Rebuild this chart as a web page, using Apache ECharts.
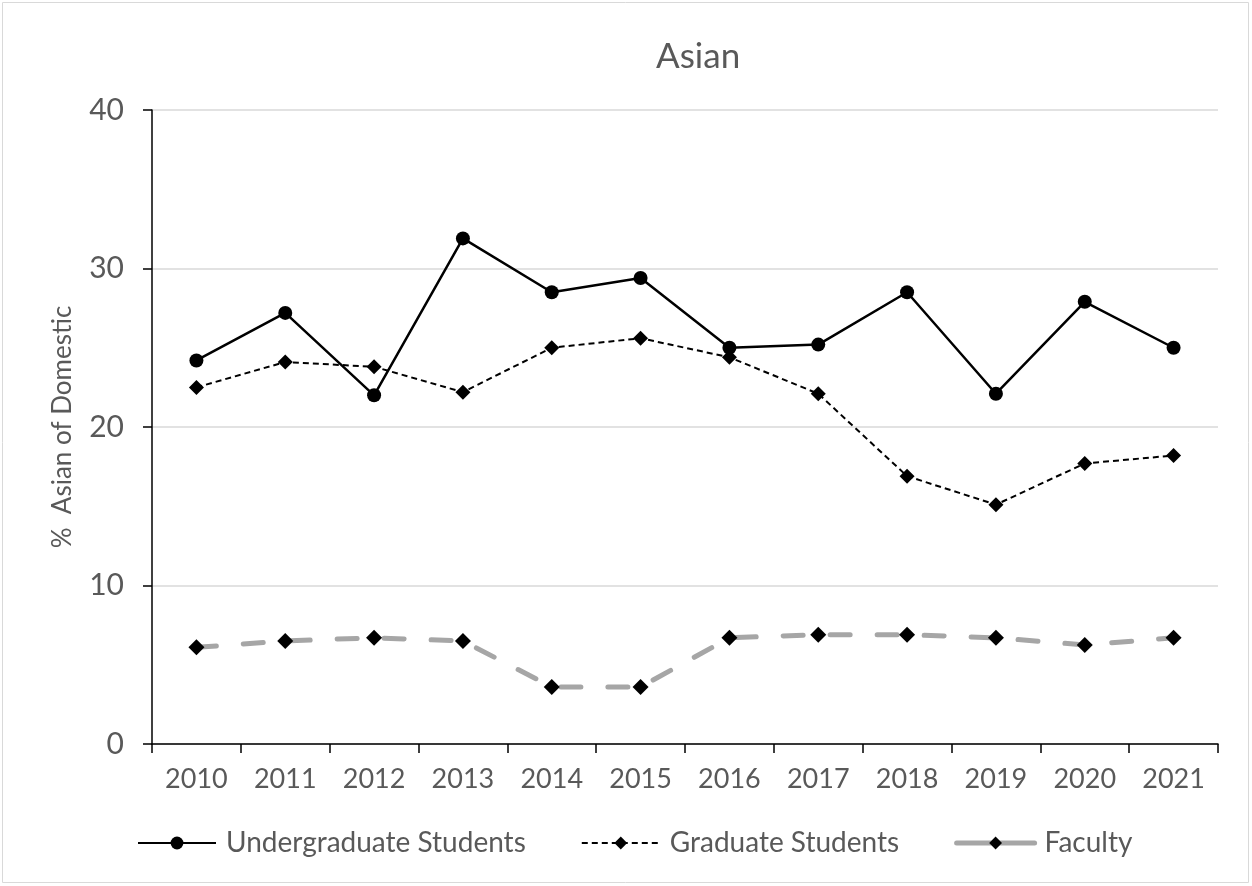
<!DOCTYPE html>
<html>
<head>
<meta charset="utf-8">
<script src="https://cdn.jsdelivr.net/npm/echarts@6/dist/echarts.min.js"></script>
<style>html,body{margin:0;padding:0;background:#fff;}#c{width:1252px;height:886px;}</style>
</head>
<body>
<div id="c"></div>
<script>
const years = ['2010','2011','2012','2013','2014','2015','2016','2017','2018','2019','2020','2021'];
const undergrad = [24.2, 27.2, 22.0, 31.9, 28.5, 29.4, 25.0, 25.2, 28.5, 22.1, 27.9, 25.0];
const graduate = [22.5, 24.1, 23.8, 22.2, 25.0, 25.6, 24.4, 22.1, 16.9, 15.1, 17.7, 18.2];
const faculty = [6.1, 6.5, 6.7, 6.5, 3.6, 3.6, 6.7, 6.9, 6.9, 6.7, 6.25, 6.7];
const yTicks = [0, 10, 20, 30, 40];

const chart = echarts.init(document.getElementById('c'));
const font = 'Lato, "Open Sans", sans-serif';
chart.setOption({
  animation: false,
  textStyle: {fontFamily: font},
  title: {text: 'Asian', left: 651, top: 34, textStyle: {fontFamily: font, fontSize: 35, fontWeight: 'normal', color: '#595959'}},
  graphic: [{type: 'rect', shape: {x: 2.5, y: 2.5, width: 1246, height: 880}, style: {fill: 'none', stroke: '#d9d9d9', lineWidth: 1}, silent: true}],
  grid: {left: 152, right: 34, top: 110, bottom: 142},
  legend: {
    top: 824, left: 132, itemWidth: 78, itemHeight: 16, itemGap: 55,
    textStyle: {fontFamily: font, fontSize: 28, color: '#595959', padding: [0, 0, 0, 5]},
    data: [
      {name: 'Undergraduate Students'},
      {name: 'Graduate Students'},
      {name: 'Faculty', lineStyle: {color: '#a6a6a6', width: 5, type: 'solid', cap: 'round'}}
    ]
  },
  xAxis: {
    type: 'category', data: years, boundaryGap: true,
    axisLine: {lineStyle: {color: '#000', width: 1.5}},
    axisTick: {show: true, length: 9, lineStyle: {color: '#000', width: 1.5}},
    axisLabel: {fontSize: 27, color: '#595959', margin: 22, fontFamily: font}
  },
  yAxis: {
    type: 'value', min: 0, max: 40, interval: 10,
    name: '%  Asian of Domestic', nameLocation: 'middle', nameGap: 76,
    nameTextStyle: {fontSize: 26, color: '#595959', fontFamily: font},
    axisLine: {show: true, lineStyle: {color: '#000', width: 1.5}},
    axisTick: {show: true, length: 9, lineStyle: {color: '#000', width: 1.5}},
    axisLabel: {fontSize: 30, color: '#595959', margin: 28, fontFamily: font,
      formatter: v => yTicks.includes(v) ? String(v) : ''},
    splitLine: {lineStyle: {color: '#d9d9d9', width: 1.5}}
  },
  series: [
    {name: 'Undergraduate Students', type: 'line', data: undergrad, symbol: 'circle', symbolSize: 14,
      lineStyle: {color: '#000', width: 2.5}, itemStyle: {color: '#000'}, z: 4},
    {name: 'Graduate Students', type: 'line', data: graduate, symbol: 'diamond', symbolSize: 15,
      lineStyle: {color: '#000', width: 2, type: [6, 4]}, itemStyle: {color: '#000'}, z: 3},
    {name: 'Faculty', type: 'line', data: faculty, symbol: 'diamond', symbolSize: 16,
      lineStyle: {color: '#a6a6a6', width: 5, type: [20, 27], cap: 'round'}, itemStyle: {color: '#000'}, z: 2}
  ]
});
</script>
</body>
</html>
